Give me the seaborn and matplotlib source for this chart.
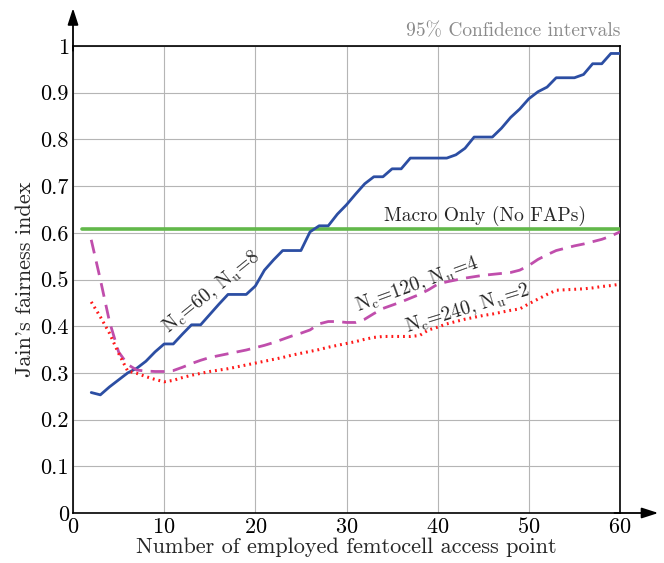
import matplotlib
matplotlib.use("Agg")
import matplotlib.pyplot as plt
import seaborn as sns
import pandas as pd
import numpy as np

# ---- data ----
x_vals = list(range(2, 61))
nc60 = [0.258, 0.253, 0.27, 0.285, 0.30, 0.31, 0.325, 0.345, 0.362, 0.362,
        0.383, 0.403, 0.403, 0.425, 0.447, 0.468, 0.468, 0.468, 0.486, 0.52,
        0.542, 0.562, 0.562, 0.562, 0.602, 0.615, 0.615, 0.64, 0.66, 0.683,
        0.705, 0.72, 0.72, 0.737, 0.737, 0.76, 0.76, 0.76, 0.76, 0.76,
        0.767, 0.781, 0.805, 0.805, 0.805, 0.824, 0.847, 0.865, 0.887, 0.902,
        0.912, 0.932, 0.932, 0.932, 0.939, 0.962, 0.962, 0.984, 0.984]
nc120 = [0.585, 0.50, 0.41, 0.345, 0.318, 0.306, 0.304, 0.303, 0.303, 0.305,
         0.312, 0.32, 0.327, 0.333, 0.337, 0.341, 0.345, 0.349, 0.354, 0.359,
         0.365, 0.372, 0.379, 0.385, 0.392, 0.405, 0.41, 0.41, 0.408, 0.408,
         0.415, 0.427, 0.438, 0.445, 0.452, 0.46, 0.468, 0.478, 0.49, 0.495,
         0.499, 0.503, 0.506, 0.509, 0.511, 0.513, 0.515, 0.52, 0.53, 0.543,
         0.553, 0.562, 0.567, 0.572, 0.576, 0.581, 0.586, 0.593, 0.602]
nc240 = [0.452, 0.42, 0.385, 0.342, 0.304, 0.299, 0.292, 0.286, 0.281, 0.284,
         0.29, 0.295, 0.299, 0.303, 0.306, 0.309, 0.313, 0.317, 0.321, 0.325,
         0.329, 0.333, 0.338, 0.342, 0.346, 0.35, 0.355, 0.359, 0.363, 0.367,
         0.372, 0.376, 0.378, 0.378, 0.378, 0.378, 0.38, 0.392, 0.398, 0.405,
         0.41, 0.415, 0.419, 0.423, 0.426, 0.43, 0.434, 0.437, 0.448, 0.458,
         0.468, 0.477, 0.478, 0.479, 0.48, 0.482, 0.485, 0.487, 0.49]
macro_x = [1, 60]
macro_y = [0.608, 0.608]

x_ticks = [0, 10, 20, 30, 40, 50, 60]
y_ticks = [0, 0.1, 0.2, 0.3, 0.4, 0.5, 0.6, 0.7, 0.8, 0.9, 1.0]
y_ticklabels = ["0", "0.1", "0.2", "0.3", "0.4", "0.5", "0.6", "0.7", "0.8", "0.9", "1"]

sns.set_style("white")
plt.rcParams["font.family"] = ["cmr10", "DejaVu Serif"]
plt.rcParams["mathtext.fontset"] = "cm"
plt.rcParams["axes.formatter.use_mathtext"] = True

fig = plt.figure(figsize=(6.64, 5.63), dpi=100)
ax = fig.add_axes([73 / 664, 50 / 563, (620 - 73) / 664, (513 - 46) / 563])

df = pd.DataFrame({"x": x_vals, "nc60": nc60, "nc120": nc120, "nc240": nc240})
dfm = pd.DataFrame({"x": macro_x, "y": macro_y})

sns.lineplot(data=dfm, x="x", y="y", ax=ax, color="#62b84a", lw=2.6, zorder=3)
sns.lineplot(data=df, x="x", y="nc60", ax=ax, color="#2c4ea3", lw=2.0, zorder=4)
sns.lineplot(data=df, x="x", y="nc120", ax=ax, color="#c04eac", lw=2.0, zorder=4)
ax.lines[-1].set_dashes((5, 3))
sns.lineplot(data=df, x="x", y="nc240", ax=ax, color="#ff1a1a", lw=2.2, zorder=4)
ax.lines[-1].set_dashes((0.6, 1.3))

ax.set_xlim(0, 60)
ax.set_ylim(0, 1)
ax.set_xticks(x_ticks)
ax.set_yticks(y_ticks)
ax.set_yticklabels(y_ticklabels)
ax.grid(True, color="#b5b5b5", lw=0.8)
ax.tick_params(direction="in", length=4, width=1, labelsize=16, colors="black", pad=3)
for s in ax.spines.values():
    s.set_color("black")
    s.set_linewidth(1.2)

ax.set_xlabel("Number of employed femtocell access point", fontsize=16, labelpad=0)
ax.set_ylabel("Jain's fairness index", fontsize=16, labelpad=4)

# arrows extending the axes
astyle = "-|>,head_length=0.62,head_width=0.2"
ax.annotate("", xy=(0, 1.081), xytext=(0, 0.99), xycoords="axes fraction",
            arrowprops=dict(arrowstyle=astyle, color="black", lw=1.3, mutation_scale=16,
                            shrinkA=0, shrinkB=0),
            annotation_clip=False)
ax.annotate("", xy=(1.07, 0), xytext=(0.99, 0), xycoords="axes fraction",
            arrowprops=dict(arrowstyle=astyle, color="black", lw=1.3, mutation_scale=16,
                            shrinkA=0, shrinkB=0),
            annotation_clip=False)

fs = 14
ax.text(15.2, 0.474, r"N$_\mathrm{c}$=60, N$_\mathrm{u}$=8", rotation=39, fontsize=fs,
        ha="center", va="center", rotation_mode="anchor")
ax.text(37.7, 0.49, r"N$_\mathrm{c}$=120, N$_\mathrm{u}$=4", rotation=20, fontsize=fs,
        ha="center", va="center", rotation_mode="anchor")
ax.text(43.3, 0.437, r"N$_\mathrm{c}$=240, N$_\mathrm{u}$=2", rotation=17, fontsize=fs,
        ha="center", va="center", rotation_mode="anchor")
ax.text(45.2, 0.636, "Macro Only (No FAPs)", fontsize=fs, ha="center", va="center")
ax.text(60, 1.021, "95% Confidence intervals", fontsize=14, ha="right", va="baseline",
        color="#8a8a8a")

fig.savefig("out.png", dpi=100)
